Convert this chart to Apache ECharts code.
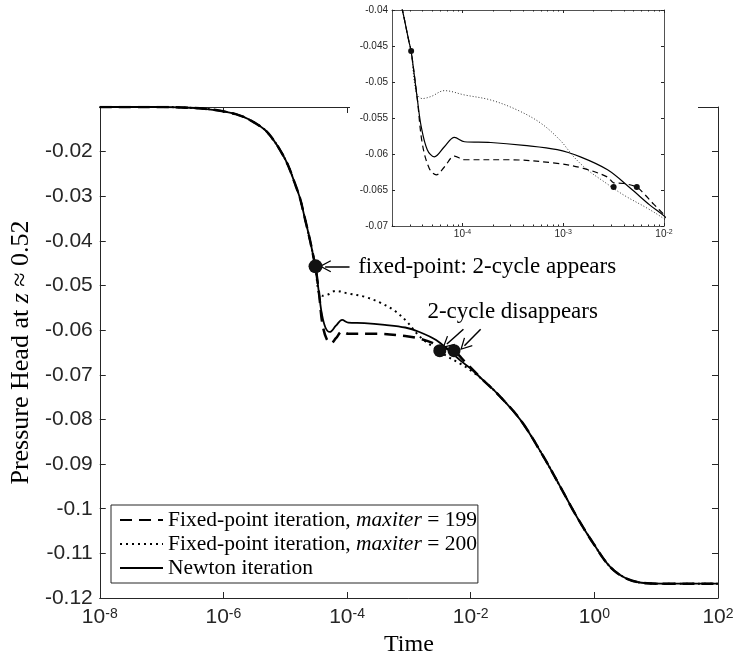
<!DOCTYPE html>
<html>
<head>
<meta charset="utf-8">
<script src="https://cdn.jsdelivr.net/npm/echarts@6/dist/echarts.min.js"></script>
<style>
    html, body { margin: 0; padding: 0; background: #fff; }
    #chart { width: 738px; height: 662px; }
</style>
</head>
<body>
<div id="chart"></div>
<script>
// x values are log10(time), y values are the pressure head

// common steep part (all three runs coincide)
var earlyLogT = [-8, -7.5, -7, -6.68, -6.3, -6.03, -5.8, -5.6, -5.34, -5.2, -5.06, -4.95, -4.85, -4.76, -4.69, -4.6, -4.53, -4.51];
var earlyHead = [-0.0100, -0.0100, -0.0100, -0.0101, -0.0104, -0.0109, -0.0116, -0.0127, -0.0150, -0.0172, -0.0202, -0.0232, -0.0269, -0.0305, -0.0345, -0.0398, -0.0445, -0.0457];

// Newton iteration
var newtonLogT = [-4.45, -4.41, -4.35, -4.28, -4.18, -4.08, -3.98, -3.72, -3.39, -3.06, -2.83, -2.56, -2.33, -2.14, -2.0];
var newtonHead = [-0.0522, -0.0562, -0.0594, -0.0604, -0.0590, -0.0577, -0.0583, -0.0584, -0.0588, -0.0594, -0.0604, -0.0622, -0.0648, -0.0671, -0.0686];

// fixed-point, maxiter = 199
var fp199LogT = [-4.45, -4.40, -4.33, -4.26, -4.18, -4.08, -3.98, -3.55, -3.06, -2.80, -2.56, -2.50, -2.40, -2.27, -2.2, -2.1, -2.0];
var fp199Head = [-0.0522, -0.0585, -0.0620, -0.0629, -0.0618, -0.0603, -0.0608, -0.0608, -0.0613, -0.0620, -0.0632, -0.0640, -0.0641, -0.0646, -0.0655, -0.0670, -0.0684];

// fixed-point, maxiter = 200
var fp200LogT = [-4.46, -4.40, -4.31, -4.18, -3.98, -3.72, -3.455, -3.225, -3.03, -2.895, -2.76, -2.60, -2.40, -2.17, -2.0];
var fp200Head = [-0.0514, -0.0523, -0.0520, -0.0512, -0.0518, -0.0525, -0.0539, -0.0557, -0.0581, -0.0604, -0.0622, -0.0638, -0.0657, -0.0675, -0.0690];

// common tail
var lateLogT = [-1.8, -1.57, -1.19, -0.82, -0.55, -0.28, -0.01, 0.26, 0.53, 0.85, 1.2, 2];
var lateHead = [-0.0712, -0.0742, -0.0802, -0.0884, -0.0951, -0.1019, -0.1079, -0.1131, -0.1157, -0.1167, -0.1168, -0.1168];

// marked points (2-cycle appears / disappears)
var dotLogT = [-4.51, -2.50, -2.27];
var dotHead = [-0.0457, -0.0646, -0.0646];

// annotations
var noteLogT = [-3.82, -2.70];
var noteHead = [-0.0458, -0.0559];
var noteText = ['fixed-point: 2-cycle appears', '2-cycle disappears'];
var arrowFrom = [[-3.96, -0.0457], [-2.118, -0.0598], [-1.839, -0.0598]];
var arrowTo = [[-4.355, -0.0457], [-2.385, -0.0631], [-2.102, -0.0635]];

var names = ['Fixed-point iteration, maxiter = 199', 'Fixed-point iteration, maxiter = 200', 'Newton iteration'];

function pairs(t, h) {
    return t.map(function (v, i) { return [v, h[i]]; });
}

var fp199Data = pairs(earlyLogT.concat(fp199LogT, lateLogT), earlyHead.concat(fp199Head, lateHead));
var fp200Data = pairs(earlyLogT.concat(fp200LogT, lateLogT), earlyHead.concat(fp200Head, lateHead));
var newtonData = pairs(earlyLogT.concat(newtonLogT, lateLogT), earlyHead.concat(newtonHead, lateHead));

var axisColor = '#262626';
var sans = 'Liberation Sans';
var serif = 'Liberation Serif';

// minor log ticks for the inset
var insetMinor = [];
for (var n = -5; n <= -3; n++) {
    for (var k = 2; k <= 9; k++) {
        var p = n + Math.log10(k);
        if (p > -4.7 && p < -2) insetMinor.push(p);
    }
}

function expLabel(v) {
    return '{b|10}{s|' + Math.round(v) + '}';
}

function frameAxis(extra) {
    var base = {
        type: 'value',
        axisLine: { show: true, onZero: false, lineStyle: { color: axisColor, width: 1 } },
        axisTick: { show: true, inside: true, length: 6, lineStyle: { color: axisColor } },
        axisLabel: { show: false },
        splitLine: { show: false }
    };
    return echarts.util.merge(base, extra, true);
}

var myChart = echarts.init(document.getElementById('chart'));

var option = {
    animation: false,
    backgroundColor: '#fff',
    grid: [
        { left: 97, right: 20, top: 107, bottom: 64 },
        { left: 392, top: 10, width: 272, height: 216, show: true, backgroundColor: '#fff', borderWidth: 0, z: 20 }
    ],
    xAxis: [
        frameAxis({
            gridIndex: 0, position: 'bottom', min: -8, max: 2, interval: 2,
            name: 'Time', nameLocation: 'middle', nameGap: 35,
            nameTextStyle: { fontFamily: serif, fontSize: 24, color: '#000' },
            axisLabel: {
                show: true, margin: 9, formatter: expLabel,
                rich: {
                    b: { fontFamily: sans, fontSize: 21, color: axisColor, verticalAlign: 'top', lineHeight: 22 },
                    s: { fontFamily: sans, fontSize: 14, color: axisColor, verticalAlign: 'top', lineHeight: 14 }
                }
            }
        }),
        frameAxis({ gridIndex: 0, position: 'top', min: -8, max: 2, interval: 2 }),
        frameAxis({
            gridIndex: 1, position: 'bottom', min: -4.7, max: -2, z: 21,
            axisLine: { lineStyle: { width: 0.8 } },
            axisTick: { length: 3, customValues: [-4, -3, -2] },
            axisLabel: {
                show: true, margin: 3, customValues: [-4, -3, -2], formatter: expLabel,
                rich: {
                    b: { fontFamily: sans, fontSize: 10, color: axisColor, verticalAlign: 'top', lineHeight: 11 },
                    s: { fontFamily: sans, fontSize: 7, color: axisColor, verticalAlign: 'top', lineHeight: 7 }
                }
            }
        }),
        frameAxis({
            gridIndex: 1, position: 'top', min: -4.7, max: -2, z: 21,
            axisLine: { lineStyle: { width: 0.8 } },
            axisTick: { length: 3, customValues: [-4, -3, -2] }
        }),
        frameAxis({
            gridIndex: 1, position: 'bottom', min: -4.7, max: -2, z: 21,
            axisLine: { show: false },
            axisTick: { length: 1.5, customValues: insetMinor }
        }),
        frameAxis({
            gridIndex: 1, position: 'top', min: -4.7, max: -2, z: 21,
            axisLine: { show: false },
            axisTick: { length: 1.5, customValues: insetMinor }
        })
    ],
    yAxis: [
        frameAxis({
            gridIndex: 0, position: 'left', min: -0.12, max: -0.01, interval: 0.01,
            name: 'Pressure Head at {i|z} \u2248 0.52', nameLocation: 'middle', nameGap: 59,
            nameTextStyle: {
                fontFamily: serif, fontSize: 26, color: '#000',
                rich: { i: { fontFamily: serif, fontSize: 26, fontStyle: 'italic', color: '#000' } }
            },
            axisLabel: {
                show: true, margin: 7, fontFamily: sans, fontSize: 21, color: axisColor,
                formatter: function (v) { return v > -0.015 ? '' : String(Number(v.toFixed(3))); }
            }
        }),
        frameAxis({ gridIndex: 0, position: 'right', min: -0.12, max: -0.01, interval: 0.01 }),
        frameAxis({
            gridIndex: 1, position: 'left', min: -0.07, max: -0.04, interval: 0.005, z: 21,
            axisLine: { lineStyle: { width: 0.8 } },
            axisTick: { length: 3 },
            axisLabel: {
                show: true, margin: 4, fontFamily: sans, fontSize: 10, color: axisColor,
                formatter: function (v) { return String(Number(v.toFixed(3))); }
            }
        }),
        frameAxis({
            gridIndex: 1, position: 'right', min: -0.07, max: -0.04, interval: 0.005, z: 21,
            axisLine: { lineStyle: { width: 0.8 } },
            axisTick: { length: 3 }
        })
    ],
    legend: {
        data: names,
        orient: 'vertical',
        left: 111,
        top: 505,
        padding: [4, 1, 4, 8],
        itemGap: 2,
        itemWidth: 43,
        itemHeight: 14,
        borderColor: '#262626',
        borderWidth: 1,
        backgroundColor: '#fff',
        selectedMode: false,
        itemStyle: { opacity: 0 },
        formatter: function (name) {
            var m = name.match(/^(.*)maxiter(.*)$/);
            if (m) return '{r|' + m[1] + '}{i|maxiter}{r|' + m[2] + '}';
            return '{r|' + name + '}';
        },
        textStyle: {
            fontFamily: serif, fontSize: 21.5, lineHeight: 20, color: '#000',
            rich: {
                r: { fontFamily: serif, fontSize: 21.5, color: '#000', lineHeight: 20 },
                i: { fontFamily: serif, fontSize: 21.5, fontStyle: 'italic', color: '#000', lineHeight: 20 }
            }
        }
    },
    graphic: [
        {
            type: 'rect', z: 15, silent: true,
            shape: { x: 350, y: 0, width: 348, height: 242 },
            style: { fill: '#fff' }
        }
    ],
    series: [
        {
            name: names[0], type: 'line', xAxisIndex: 0, yAxisIndex: 0,
            data: fp199Data, showSymbol: false, symbol: 'none', smooth: 0.35,
            itemStyle: { color: '#000' },
            lineStyle: { color: '#000', width: 2.5, type: [12, 7] }
        },
        {
            name: names[1], type: 'line', xAxisIndex: 0, yAxisIndex: 0,
            data: fp200Data, showSymbol: false, symbol: 'none', smooth: 0.35,
            itemStyle: { color: '#000' },
            lineStyle: { color: '#000', width: 2, type: [2, 4] }
        },
        {
            name: names[2], type: 'line', xAxisIndex: 0, yAxisIndex: 0,
            data: newtonData, showSymbol: false, symbol: 'none', smooth: 0.35,
            itemStyle: { color: '#000' },
            lineStyle: { color: '#000', width: 1.8 }
        },
        {
            type: 'scatter', xAxisIndex: 0, yAxisIndex: 0, z: 5,
            data: pairs(dotLogT, dotHead),
            symbolSize: function (v, p) { return p.dataIndex === 0 ? 14 : 13; },
            itemStyle: { color: '#111', opacity: 1 },
            markLine: {
                silent: true,
                symbol: ['none', 'path://M10,0 L20,17 L18.3,18 L10,4 L1.7,18 L0,17 Z'],
                symbolSize: 12,
                label: { show: false },
                lineStyle: { color: '#000', width: 1.5, type: 'solid', opacity: 1 },
                data: arrowFrom.map(function (a, i) {
                    return [{ coord: a }, { coord: arrowTo[i] }];
                })
            }
        },
        {
            type: 'scatter', xAxisIndex: 0, yAxisIndex: 0, z: 5,
            data: noteLogT.map(function (t, i) { return { value: [t, noteHead[i]], name: noteText[i] }; }),
            symbolSize: 0,
            itemStyle: { opacity: 1 },
            label: {
                show: true, position: 'right', distance: 0,
                formatter: '{b}', fontFamily: serif, fontSize: 23, color: '#000'
            }
        },
        {
            name: names[0], type: 'line', xAxisIndex: 2, yAxisIndex: 2, z: 22,
            data: fp199Data, showSymbol: false, symbol: 'none', smooth: 0.35,
            itemStyle: { color: '#000' },
            lineStyle: { color: '#000', width: 1.2, type: [6, 4] }
        },
        {
            name: names[1], type: 'line', xAxisIndex: 2, yAxisIndex: 2, z: 22,
            data: fp200Data, showSymbol: false, symbol: 'none', smooth: 0.35,
            itemStyle: { color: '#000' },
            lineStyle: { color: '#000', width: 0.8, type: [1, 2] }
        },
        {
            name: names[2], type: 'line', xAxisIndex: 2, yAxisIndex: 2, z: 22,
            data: newtonData, showSymbol: false, symbol: 'none', smooth: 0.35,
            itemStyle: { color: '#000' },
            lineStyle: { color: '#000', width: 1.2 }
        },
        {
            type: 'scatter', xAxisIndex: 2, yAxisIndex: 2, z: 23,
            data: pairs(dotLogT, dotHead),
            symbolSize: 6,
            itemStyle: { color: '#111', opacity: 1 }
        }
    ]
};

myChart.setOption(option);
</script>
</body>
</html>
